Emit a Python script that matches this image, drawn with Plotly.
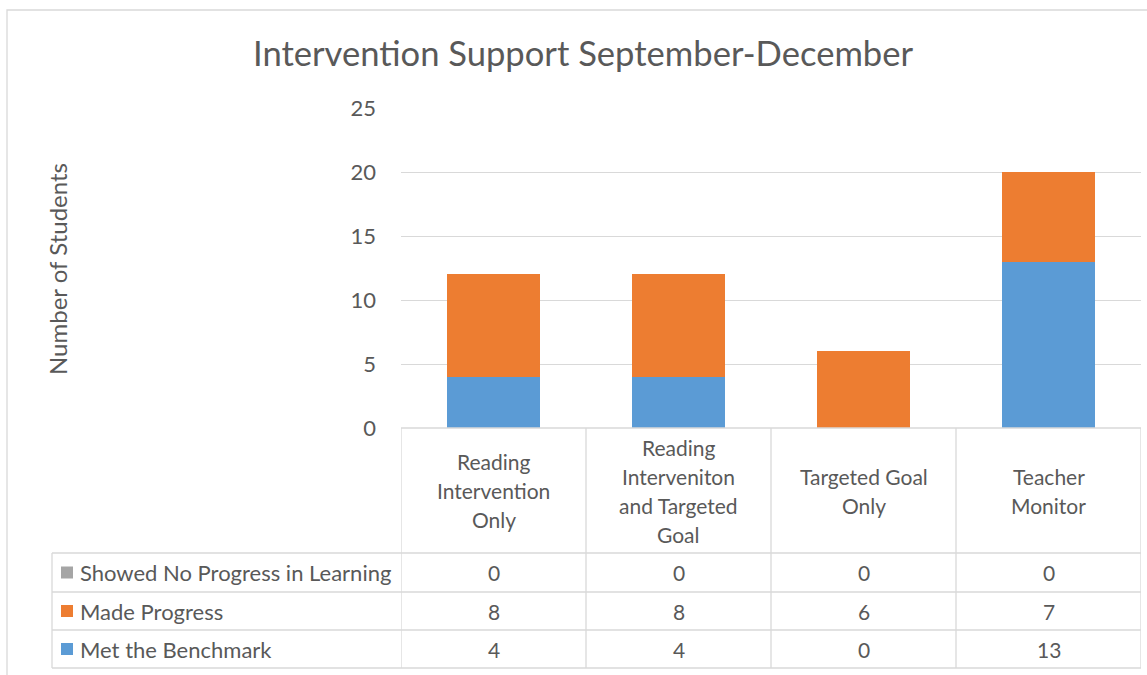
import plotly.graph_objects as go

# ---------------- data ----------------
categories = ["Reading Intervention Only", "Reading Interveniton and Targeted Goal",
              "Targeted Goal Only", "Teacher Monitor"]
category_lines = [["Reading", "Intervention", "Only"],
                  ["Reading", "Interveniton", "and Targeted", "Goal"],
                  ["Targeted Goal", "Only"],
                  ["Teacher", "Monitor"]]
series_names = ["Showed No Progress in Learning", "Made Progress", "Met the Benchmark"]
no_progress = [0, 0, 0, 0]
made_progress = [8, 8, 6, 7]
met_benchmark = [4, 4, 0, 13]
y_ticks = [0, 5, 10, 15, 20, 25]

# ---------------- style ----------------
W, H = 1147, 675
L, R, T, B = 401, 6, 108, 247
PW, PH = W - L - R, H - T - B
FONT = "Lato"
TXT = "#595959"
GRID = "#d9d9d9"
COLORS = {"Showed No Progress in Learning": "#a5a5a5",
          "Made Progress": "#ed7d31",
          "Met the Benchmark": "#5b9bd5"}

def px_x(px):
    return (px - L) / PW

def px_y(py):
    return (H - B - py) / PH

xs = list(range(len(categories)))
fig = go.Figure()
for name, vals in [("Met the Benchmark", met_benchmark),
                   ("Made Progress", made_progress),
                   ("Showed No Progress in Learning", no_progress)]:
    fig.add_trace(go.Bar(x=xs, y=vals, name=name, marker_color=COLORS[name],
                         marker_line_width=0, width=0.5, hoverinfo="x+y+name"))

shapes = []
annotations = []
line_style = dict(color=GRID, width=1.3)

# table horizontal lines (header bottom + row separators)
row_tops = [553, 592, 630, 668]
for py in row_tops:
    shapes.append(dict(type="line", xref="paper", yref="paper",
                       x0=px_x(52), x1=1, y0=px_y(py), y1=px_y(py), line=line_style))
# table top
shapes.append(dict(type="line", xref="paper", yref="paper",
                   x0=0, x1=1, y0=0, y1=0, line=line_style))
# vertical separators at category boundaries
for i in range(len(categories) + 1):
    shapes.append(dict(type="line", xref="x", yref="paper",
                       x0=i - 0.5, x1=i - 0.5, y0=0, y1=px_y(668), line=line_style))
# legend column left edge
shapes.append(dict(type="line", xref="paper", yref="paper",
                   x0=px_x(52), x1=px_x(52), y0=px_y(553), y1=px_y(668), line=line_style))
# outer chart border
shapes.append(dict(type="rect", xref="paper", yref="paper",
                   x0=px_x(7), x1=px_x(1160), y0=px_y(10), y1=px_y(690),
                   line=dict(color=GRID, width=1.3), fillcolor="rgba(0,0,0,0)"))

# category header labels
header_center = (428 + 553) / 2
line_gap = 29
for i, lines in enumerate(category_lines):
    n = len(lines)
    for k, t in enumerate(lines):
        py = header_center + (k - (n - 1) / 2) * line_gap
        annotations.append(dict(x=i, xref="x", y=px_y(py), yref="paper", text=t,
                                showarrow=False, xanchor="center", yanchor="middle",
                                font=dict(family=FONT, size=21, color=TXT)))

# data rows
row_values = {"Showed No Progress in Learning": no_progress,
              "Made Progress": made_progress,
              "Met the Benchmark": met_benchmark}
for r, name in enumerate(series_names):
    cy = (row_tops[r] + row_tops[r + 1]) / 2
    shapes.append(dict(type="rect", xref="paper", yref="paper",
                       x0=px_x(61), x1=px_x(73), y0=px_y(cy - 6), y1=px_y(cy + 6),
                       line=dict(width=0), fillcolor=COLORS[name]))
    annotations.append(dict(x=px_x(78), xref="paper", y=px_y(cy), yref="paper",
                            text=name, showarrow=False, xanchor="left", yanchor="middle",
                            font=dict(family=FONT, size=22, color=TXT)))
    for i, v in enumerate(row_values[name]):
        annotations.append(dict(x=i, xref="x", y=px_y(cy), yref="paper", text=str(v),
                                showarrow=False, xanchor="center", yanchor="middle",
                                font=dict(family=FONT, size=21, color=TXT)))

# y axis title
annotations.append(dict(x=px_x(57), xref="paper", y=px_y(269), yref="paper",
                        text="Number of Students", textangle=-90, showarrow=False,
                        xanchor="center", yanchor="middle",
                        font=dict(family=FONT, size=24, color=TXT)))

fig.update_layout(
    width=W, height=H, autosize=False,
    margin=dict(l=L, r=R, t=T, b=B, pad=0),
    paper_bgcolor="white", plot_bgcolor="white",
    barmode="stack", showlegend=False,
    title=dict(text="Intervention Support September-December", x=(253 + 913) / 2 / W,
               xanchor="center", y=1 - 54 / H, yanchor="middle",
               font=dict(family=FONT, size=34.6, color=TXT)),
    xaxis=dict(range=[-0.5, len(categories) - 0.5], showticklabels=False,
               showgrid=False, zeroline=False, showline=False, fixedrange=True),
    yaxis=dict(range=[0, 25], tickvals=y_ticks, showgrid=True, gridcolor=GRID,
               gridwidth=1.3, zeroline=False, showline=False, ticks="",
               ticklabelstandoff=24,
               tickfont=dict(family=FONT, size=22, color=TXT), fixedrange=True),
    shapes=shapes, annotations=annotations,
    font=dict(family=FONT, color=TXT),
)

fig.write_html("out.html", config={"displayModeBar": False},
               post_script="document.body.style.margin='0';document.body.style.overflow='hidden';")
